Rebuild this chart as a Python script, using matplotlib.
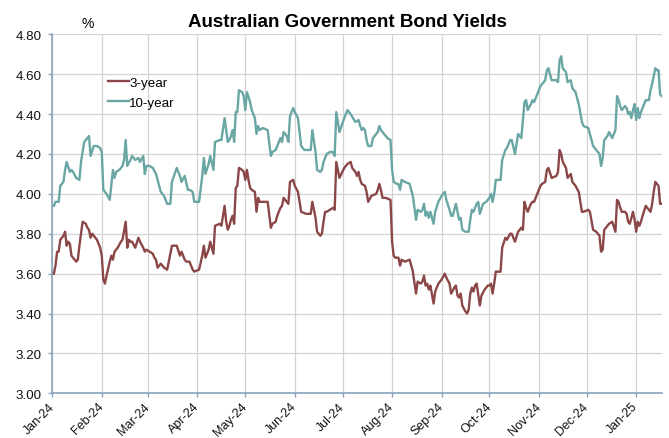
import matplotlib
matplotlib.use("Agg")
import matplotlib.pyplot as plt
import matplotlib.dates as mdates
from matplotlib.ticker import FormatStrFormatter
import pandas as pd

plt.rcParams['font.family'] = ['Liberation Sans', 'DejaVu Sans']

# ---- data: daily yields, per cent ----
dates_3y = """
2024-01-02 2024-01-03 2024-01-04 2024-01-05 2024-01-06 2024-01-08 2024-01-09 2024-01-10 2024-01-11 2024-01-12
2024-01-13 2024-01-14 2024-01-16 2024-01-17 2024-01-18 2024-01-20 2024-01-22 2024-01-23 2024-01-24 2024-01-25
2024-01-26 2024-01-27 2024-01-29 2024-01-31 2024-02-01 2024-02-02 2024-02-03 2024-02-04 2024-02-06 2024-02-07
2024-02-08 2024-02-09 2024-02-11 2024-02-13 2024-02-14 2024-02-16 2024-02-17 2024-02-18 2024-02-19 2024-02-20
2024-02-22 2024-02-24 2024-02-25 2024-02-27 2024-02-28 2024-02-29 2024-03-02 2024-03-04 2024-03-05 2024-03-06
2024-03-07 2024-03-09 2024-03-11 2024-03-13 2024-03-14 2024-03-16 2024-03-19 2024-03-21 2024-03-22 2024-03-24
2024-03-25 2024-03-27 2024-03-29 2024-03-30 2024-04-02 2024-04-04 2024-04-05 2024-04-06 2024-04-08 2024-04-09
2024-04-11 2024-04-12 2024-04-15 2024-04-16 2024-04-18 2024-04-19 2024-04-20 2024-04-21 2024-04-22 2024-04-23
2024-04-24 2024-04-25 2024-04-26 2024-04-27 2024-04-29 2024-04-30 2024-05-01 2024-05-02 2024-05-03 2024-05-04
2024-05-05 2024-05-07 2024-05-08 2024-05-09 2024-05-10 2024-05-12 2024-05-15 2024-05-17 2024-05-18 2024-05-20
2024-05-21 2024-05-23 2024-05-24 2024-05-25 2024-05-27 2024-05-28 2024-05-29 2024-05-31 2024-06-01 2024-06-03
2024-06-05 2024-06-08 2024-06-11 2024-06-12 2024-06-14 2024-06-15 2024-06-17 2024-06-18 2024-06-19 2024-06-20
2024-06-21 2024-06-23 2024-06-25 2024-06-26 2024-06-27 2024-06-29 2024-07-02 2024-07-04 2024-07-06 2024-07-07
2024-07-09 2024-07-10 2024-07-11 2024-07-12 2024-07-13 2024-07-15 2024-07-16 2024-07-17 2024-07-19 2024-07-22
2024-07-23 2024-07-24 2024-07-25 2024-07-26 2024-07-28 2024-07-31 2024-08-01 2024-08-02 2024-08-03 2024-08-05
2024-08-06 2024-08-07 2024-08-09 2024-08-12 2024-08-14 2024-08-16 2024-08-17 2024-08-19 2024-08-20 2024-08-21
2024-08-22 2024-08-23 2024-08-24 2024-08-25 2024-08-27 2024-08-28 2024-08-30 2024-09-01 2024-09-03 2024-09-04
2024-09-06 2024-09-07 2024-09-09 2024-09-10 2024-09-11 2024-09-12 2024-09-13 2024-09-14 2024-09-16 2024-09-17
2024-09-18 2024-09-19 2024-09-20 2024-09-21 2024-09-22 2024-09-23 2024-09-25 2024-09-26 2024-09-28 2024-09-30
2024-10-01 2024-10-02 2024-10-03 2024-10-04 2024-10-05 2024-10-08 2024-10-09 2024-10-11 2024-10-12 2024-10-14
2024-10-15 2024-10-17 2024-10-19 2024-10-21 2024-10-22 2024-10-23 2024-10-24 2024-10-25 2024-10-27 2024-10-28
2024-10-29 2024-10-31 2024-11-02 2024-11-03 2024-11-05 2024-11-06 2024-11-07 2024-11-09 2024-11-12 2024-11-13
2024-11-14 2024-11-15 2024-11-16 2024-11-18 2024-11-19 2024-11-21 2024-11-22 2024-11-24 2024-11-26 2024-11-28
2024-11-29 2024-12-02 2024-12-03 2024-12-05 2024-12-07 2024-12-09 2024-12-10 2024-12-11 2024-12-12 2024-12-14
2024-12-15 2024-12-17 2024-12-19 2024-12-20 2024-12-21 2024-12-22 2024-12-23 2024-12-25 2024-12-26 2024-12-27
2024-12-28 2024-12-29 2024-12-30 2024-12-31 2025-01-01 2025-01-02 2025-01-03 2025-01-04 2025-01-05 2025-01-07
2025-01-09 2025-01-10 2025-01-11 2025-01-12 2025-01-13 2025-01-14 2025-01-15 2025-01-16 2025-01-17
""".split()

yield_3y = [
    3.60, 3.64, 3.71, 3.71, 3.77, 3.79, 3.81, 3.74, 3.76, 3.75,
    3.69, 3.68, 3.66, 3.67, 3.74, 3.86, 3.85, 3.83, 3.82, 3.78,
    3.80, 3.79, 3.77, 3.73, 3.69, 3.57, 3.55, 3.59, 3.66, 3.69,
    3.67, 3.71, 3.73, 3.76, 3.77, 3.86, 3.73, 3.77, 3.76, 3.76,
    3.73, 3.78, 3.76, 3.73, 3.71, 3.72, 3.71, 3.70, 3.68, 3.67,
    3.63, 3.65, 3.63, 3.62, 3.66, 3.74, 3.74, 3.69, 3.71, 3.67,
    3.66, 3.66, 3.62, 3.61, 3.62, 3.69, 3.74, 3.68, 3.72, 3.76,
    3.70, 3.84, 3.85, 3.84, 3.94, 3.86, 3.82, 3.84, 3.87, 3.89,
    3.85, 4.03, 4.04, 4.13, 4.12, 4.11, 4.07, 4.12, 4.07, 4.03,
    4.02, 4.01, 3.91, 3.98, 3.96, 3.96, 3.96, 3.83, 3.85, 3.86,
    3.89, 3.93, 3.94, 3.98, 3.96, 3.95, 4.06, 4.07, 4.04, 4.01,
    3.91, 3.90, 3.90, 3.96, 3.88, 3.81, 3.79, 3.80, 3.86, 3.91,
    3.91, 3.92, 3.93, 3.92, 4.16, 4.08, 4.13, 4.15, 4.16, 4.13,
    4.11, 4.09, 4.11, 4.07, 4.05, 4.04, 4.01, 3.96, 3.99, 4.00,
    4.02, 4.05, 4.02, 3.98, 3.98, 3.97, 3.76, 3.69, 3.68, 3.68,
    3.64, 3.67, 3.66, 3.67, 3.61, 3.50, 3.56, 3.55, 3.56, 3.59,
    3.54, 3.55, 3.52, 3.54, 3.45, 3.51, 3.55, 3.57, 3.60, 3.58,
    3.55, 3.50, 3.53, 3.54, 3.49, 3.48, 3.50, 3.44, 3.41, 3.40,
    3.42, 3.50, 3.53, 3.51, 3.54, 3.55, 3.44, 3.49, 3.52, 3.54,
    3.54, 3.55, 3.50, 3.55, 3.61, 3.61, 3.73, 3.78, 3.77, 3.80,
    3.80, 3.76, 3.81, 3.83, 3.82, 3.96, 3.93, 3.91, 3.95, 3.96,
    3.96, 4.00, 4.04, 4.05, 4.06, 4.12, 4.13, 4.08, 4.09, 4.11,
    4.22, 4.20, 4.16, 4.13, 4.08, 4.10, 4.06, 4.04, 4.01, 3.91,
    3.91, 3.92, 3.91, 3.82, 3.81, 3.79, 3.71, 3.72, 3.82, 3.84,
    3.85, 3.86, 3.81, 3.97, 3.96, 3.93, 3.91, 3.91, 3.90, 3.86,
    3.85, 3.88, 3.91, 3.87, 3.81, 3.86, 3.84, 3.86, 3.89, 3.94,
    3.92, 3.91, 3.95, 4.01, 4.06, 4.05, 4.04, 3.95, 3.95,
]

dates_10y = """
2024-01-02 2024-01-03 2024-01-05 2024-01-06 2024-01-08 2024-01-09 2024-01-10 2024-01-12 2024-01-13 2024-01-14
2024-01-16 2024-01-18 2024-01-19 2024-01-21 2024-01-23 2024-01-24 2024-01-25 2024-01-27 2024-01-29 2024-01-31
2024-02-01 2024-02-02 2024-02-04 2024-02-06 2024-02-08 2024-02-09 2024-02-10 2024-02-12 2024-02-14 2024-02-15
2024-02-16 2024-02-17 2024-02-19 2024-02-20 2024-02-22 2024-02-24 2024-02-25 2024-02-27 2024-02-28 2024-02-29
2024-03-02 2024-03-04 2024-03-06 2024-03-09 2024-03-11 2024-03-13 2024-03-15 2024-03-16 2024-03-19 2024-03-21
2024-03-22 2024-03-24 2024-03-26 2024-03-27 2024-03-29 2024-03-30 2024-04-02 2024-04-04 2024-04-05 2024-04-06
2024-04-08 2024-04-09 2024-04-11 2024-04-12 2024-04-15 2024-04-16 2024-04-18 2024-04-20 2024-04-21 2024-04-22
2024-04-23 2024-04-24 2024-04-25 2024-04-26 2024-04-27 2024-04-29 2024-04-30 2024-05-01 2024-05-02 2024-05-04
2024-05-05 2024-05-07 2024-05-08 2024-05-09 2024-05-10 2024-05-12 2024-05-15 2024-05-17 2024-05-18 2024-05-20
2024-05-21 2024-05-23 2024-05-24 2024-05-25 2024-05-27 2024-05-28 2024-05-29 2024-05-31 2024-06-01 2024-06-03
2024-06-05 2024-06-07 2024-06-11 2024-06-12 2024-06-14 2024-06-15 2024-06-17 2024-06-18 2024-06-19 2024-06-21
2024-06-23 2024-06-25 2024-06-26 2024-06-27 2024-06-29 2024-07-02 2024-07-04 2024-07-06 2024-07-09 2024-07-11
2024-07-12 2024-07-13 2024-07-14 2024-07-15 2024-07-16 2024-07-17 2024-07-19 2024-07-20 2024-07-22 2024-07-23
2024-07-24 2024-07-25 2024-07-27 2024-07-29 2024-07-31 2024-08-01 2024-08-02 2024-08-04 2024-08-05 2024-08-06
2024-08-07 2024-08-09 2024-08-12 2024-08-14 2024-08-16 2024-08-17 2024-08-19 2024-08-20 2024-08-21 2024-08-22
2024-08-23 2024-08-24 2024-08-25 2024-08-27 2024-08-28 2024-08-30 2024-09-01 2024-09-03 2024-09-04 2024-09-06
2024-09-07 2024-09-08 2024-09-10 2024-09-11 2024-09-12 2024-09-13 2024-09-14 2024-09-16 2024-09-18 2024-09-19
2024-09-20 2024-09-21 2024-09-23 2024-09-24 2024-09-25 2024-09-27 2024-09-29 2024-10-01 2024-10-02 2024-10-03
2024-10-04 2024-10-05 2024-10-08 2024-10-09 2024-10-11 2024-10-12 2024-10-14 2024-10-15 2024-10-17 2024-10-19
2024-10-21 2024-10-23 2024-10-24 2024-10-25 2024-10-27 2024-10-28 2024-10-29 2024-10-31 2024-11-02 2024-11-03
2024-11-05 2024-11-06 2024-11-07 2024-11-09 2024-11-12 2024-11-13 2024-11-14 2024-11-15 2024-11-16 2024-11-18
2024-11-19 2024-11-21 2024-11-22 2024-11-24 2024-11-26 2024-11-28 2024-11-29 2024-12-02 2024-12-03 2024-12-05
2024-12-07 2024-12-09 2024-12-10 2024-12-11 2024-12-12 2024-12-14 2024-12-15 2024-12-17 2024-12-19 2024-12-20
2024-12-21 2024-12-22 2024-12-23 2024-12-25 2024-12-26 2024-12-27 2024-12-28 2024-12-29 2024-12-30 2024-12-31
2025-01-01 2025-01-02 2025-01-03 2025-01-04 2025-01-05 2025-01-07 2025-01-09 2025-01-10 2025-01-11 2025-01-12
2025-01-13 2025-01-14 2025-01-15 2025-01-16 2025-01-17
""".split()

yield_10y = [
    3.94, 3.96, 3.96, 4.04, 4.06, 4.12, 4.16, 4.11, 4.12, 4.11,
    4.08, 4.07, 4.16, 4.26, 4.28, 4.29, 4.19, 4.24, 4.24, 4.23,
    4.21, 4.02, 4.00, 3.97, 4.12, 4.08, 4.11, 4.12, 4.14, 4.17,
    4.27, 4.14, 4.17, 4.19, 4.17, 4.18, 4.16, 4.19, 4.10, 4.14,
    4.14, 4.13, 4.10, 4.01, 3.99, 3.95, 3.95, 4.06, 4.13, 4.09,
    4.06, 4.09, 4.02, 4.02, 4.01, 3.96, 3.96, 4.09, 4.18, 4.10,
    4.15, 4.19, 4.12, 4.26, 4.27, 4.27, 4.38, 4.26, 4.27, 4.29,
    4.32, 4.26, 4.41, 4.41, 4.52, 4.51, 4.49, 4.42, 4.51, 4.46,
    4.42, 4.38, 4.30, 4.34, 4.32, 4.33, 4.32, 4.19, 4.21, 4.22,
    4.24, 4.28, 4.26, 4.31, 4.29, 4.26, 4.39, 4.43, 4.41, 4.38,
    4.24, 4.22, 4.22, 4.32, 4.21, 4.12, 4.11, 4.12, 4.16, 4.20,
    4.21, 4.21, 4.19, 4.41, 4.31, 4.38, 4.42, 4.40, 4.36, 4.37,
    4.34, 4.32, 4.33, 4.32, 4.27, 4.24, 4.24, 4.28, 4.30, 4.31,
    4.34, 4.32, 4.30, 4.28, 4.27, 4.12, 4.06, 4.05, 4.05, 4.02,
    4.07, 4.06, 4.05, 3.99, 3.87, 3.92, 3.91, 3.92, 3.95, 3.89,
    3.91, 3.88, 3.91, 3.85, 3.91, 3.96, 3.99, 4.01, 3.97, 3.92,
    3.89, 3.89, 3.95, 3.91, 3.87, 3.88, 3.82, 3.81, 3.81, 3.87,
    3.92, 3.91, 3.95, 3.96, 3.90, 3.95, 3.96, 3.98, 4.00, 3.96,
    4.00, 4.07, 4.07, 4.17, 4.22, 4.23, 4.27, 4.27, 4.20, 4.30,
    4.28, 4.46, 4.47, 4.42, 4.45, 4.47, 4.46, 4.50, 4.54, 4.55,
    4.57, 4.62, 4.63, 4.57, 4.57, 4.56, 4.67, 4.69, 4.63, 4.61,
    4.56, 4.57, 4.53, 4.51, 4.45, 4.36, 4.34, 4.33, 4.30, 4.24,
    4.22, 4.20, 4.14, 4.18, 4.27, 4.29, 4.31, 4.28, 4.32, 4.49,
    4.47, 4.44, 4.42, 4.44, 4.43, 4.40, 4.41, 4.38, 4.42, 4.45,
    4.37, 4.43, 4.38, 4.41, 4.43, 4.47, 4.47, 4.52, 4.55, 4.59,
    4.63, 4.62, 4.62, 4.50, 4.49,
]

series_labels = ['3-year', '10-year']
series_colors = ['#8B4747', '#6AA6A4']
title_text = 'Australian Government Bond Yields'
unit_text = '%'
y_ticks = [3.00, 3.20, 3.40, 3.60, 3.80, 4.00, 4.20, 4.40, 4.60, 4.80]
x_start, x_end = '2024-01-01', '2025-01-17'

# ---- figure ----
W, H = 669, 439
fig = plt.figure(figsize=(W / 100, H / 100), dpi=100)
ax = fig.add_axes([52.3 / W, 1 - 394.3 / H, (661.7 - 52.3) / W, (394.3 - 35.3) / H])

axis_col = '#8AA2BC'
grid_col = '#D3D3D3'

ax.plot(pd.to_datetime(dates_3y), yield_3y, color=series_colors[0], lw=1.7,
        label=series_labels[0], solid_joinstyle='round', zorder=3)
ax.plot(pd.to_datetime(dates_10y), yield_10y, color=series_colors[1], lw=1.7,
        label=series_labels[1], solid_joinstyle='round', zorder=3)

ax.set_xlim(pd.Timestamp(x_start), pd.Timestamp(x_end))
ax.set_ylim(y_ticks[0], y_ticks[-1])
ax.set_yticks(y_ticks)
ax.yaxis.set_major_formatter(FormatStrFormatter('%.2f'))
ax.set_xticks(pd.date_range(x_start, x_end, freq='MS'))
ax.xaxis.set_major_formatter(mdates.DateFormatter('%b-%y'))

ax.grid(True, color=grid_col, lw=0.9, zorder=0)
ax.set_axisbelow(True)
for side in ('top', 'right'):
    ax.spines[side].set_visible(False)
for side in ('left', 'bottom'):
    ax.spines[side].set_color(axis_col)
    ax.spines[side].set_linewidth(1.2)

ax.tick_params(axis='both', direction='out', length=3, width=1, color=axis_col,
               labelcolor='#111111')
ax.tick_params(axis='y', pad=5, labelsize=9.6)
ax.tick_params(axis='x', pad=5, labelsize=9.0)
for lab in ax.get_xticklabels():
    lab.set_rotation(45)
    lab.set_ha('right')
    lab.set_va('center')
    lab.set_rotation_mode('anchor')

leg = ax.legend(loc='upper left', bbox_to_anchor=(108.3 / W, 1 - 77.5 / H),
                bbox_transform=fig.transFigure, frameon=False, fontsize=9.6,
                handlelength=1.58, handletextpad=0.0, borderpad=0.0,
                borderaxespad=0.0, labelspacing=0.55)

fig.text(347.5 / W, 1 - 26.7 / H, title_text, ha='center', va='baseline',
         fontsize=13.5, fontweight='bold', color='#000000')
fig.text(87.5 / W, 1 - 28.3 / H, unit_text, ha='center', va='baseline',
         fontsize=10, color='#000000')

fig.savefig('out.png', dpi=100)
